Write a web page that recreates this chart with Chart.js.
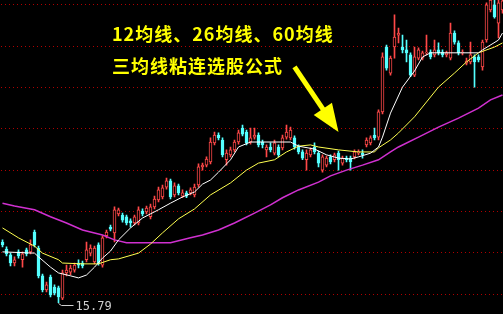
<!DOCTYPE html>
<html>
<head>
<meta charset="utf-8">
<script src="https://cdn.jsdelivr.net/npm/chart.js@4/dist/chart.umd.min.js"></script>
<style>
  html, body { margin: 0; padding: 0; background: #000; }
  #wrap { position: relative; width: 503px; height: 314px; overflow: hidden; background: #000; }
  #kline { position: absolute; left: 0; top: 0; }
  .note { position: absolute; left: 112px; color: #ffff00; font: bold 18px "Noto Sans CJK SC", sans-serif; letter-spacing: 1px; line-height: 18px; white-space: nowrap; }
</style>
</head>
<body>
<div id="wrap">
  <canvas id="kline" width="505" height="314"></canvas>
  <div class="note" style="top:24px">12均线、26均线、60均线</div>
  <div class="note" style="top:56px">三均线粘连选股公式</div>
</div>
<script>
// 日K数据
const opens = [17.26,17.09,16.95,16.75,17.02,16.83,17.07,17.02,17.50,17.11,
  16.44,16.10,16.41,16.17,16.15,15.90,16.51,16.53,16.58,16.75,
  16.75,16.83,16.99,16.78,17.19,16.70,17.41,17.62,17.48,17.94,
  17.91,17.87,17.77,17.72,17.72,18.01,17.99,17.87,18.11,18.28,
  18.35,18.59,18.74,18.40,18.62,18.37,18.45,18.45,18.40,18.64,
  19.08,19.12,19.20,19.66,19.85,19.73,19.25,19.37,19.49,19.68,
  20.02,19.92,19.68,19.80,19.85,19.68,19.49,19.56,19.41,19.56,
  19.54,19.80,19.78,19.78,19.56,19.44,19.25,19.37,19.56,19.41,
  19.00,19.12,19.32,19.25,19.41,19.17,19.29,19.29,19.32,19.41,
  19.41,19.61,19.66,19.85,19.80,20.41,21.98,21.35,21.98,22.27,
  21.98,21.91,21.79,21.30,21.71,21.71,21.84,21.86,21.79,21.91,
  21.86,21.79,21.71,22.32,22.08,21.84,21.59,21.62,21.74,21.74,
  21.50,22.15,22.88,23.00,22.56,22.88];
const highs = [17.31,17.14,16.99,16.90,17.07,17.02,17.11,17.31,17.55,17.16,
  16.48,16.29,16.46,16.22,16.19,16.58,16.70,16.70,16.75,16.83,
  16.80,17.26,17.19,17.16,17.24,17.41,17.55,17.67,18.11,18.08,
  17.96,17.91,17.82,17.91,18.11,18.06,18.13,18.18,18.37,18.59,
  18.64,18.81,18.78,18.69,18.66,18.52,18.49,18.57,18.66,19.15,
  19.17,19.32,19.78,19.92,19.90,19.78,19.49,19.56,19.73,19.97,
  20.09,19.97,20.02,20.02,19.90,19.73,19.61,19.66,19.73,19.61,
  19.85,20.09,20.04,19.83,19.61,19.49,19.49,19.54,19.66,19.46,
  19.37,19.34,19.37,19.41,19.46,19.34,19.34,19.34,19.49,19.49,
  19.49,19.78,19.83,20.02,20.46,21.84,22.03,21.76,22.76,22.44,
  22.27,22.15,21.84,21.98,21.96,21.88,22.27,21.91,22.15,22.08,
  21.91,21.88,22.56,22.37,22.13,21.91,21.71,22.10,21.79,21.79,
  22.15,23.05,23.12,23.12,23.12,23.12];
const lows = [17.14,16.92,16.68,16.68,16.87,16.65,16.92,16.97,17.14,16.39,
  16.05,16.05,15.93,15.98,15.79,15.86,16.44,16.46,16.53,16.63,
  16.63,16.78,16.92,16.73,16.70,16.65,17.36,17.53,17.26,17.89,
  17.74,17.67,17.62,17.67,17.67,17.89,17.94,17.82,18.06,18.23,
  18.30,18.54,18.30,18.35,18.40,18.33,18.33,18.40,18.35,18.59,
  19.00,19.08,19.15,19.61,19.73,19.32,19.12,19.32,19.44,19.63,
  19.83,19.61,19.63,19.75,19.56,19.54,19.32,19.44,19.37,19.32,
  19.49,19.75,19.73,19.51,19.39,19.25,19.00,19.32,19.39,19.08,
  18.95,19.08,19.15,19.20,19.00,19.12,19.20,19.00,19.27,19.37,
  19.29,19.56,19.61,19.73,19.73,20.36,21.42,21.30,21.71,22.08,
  21.84,21.62,21.26,21.26,21.67,21.67,21.79,21.69,21.74,21.79,
  21.74,21.74,21.67,22.05,21.79,21.79,21.55,21.57,21.01,21.62,
  21.42,22.10,22.83,22.68,22.20,22.80];
const closes = [17.19,16.97,16.75,16.83,16.92,16.97,16.97,17.19,17.19,16.44,
  16.10,16.22,15.98,16.02,15.93,16.51,16.58,16.63,16.70,16.70,
  16.68,17.07,17.11,17.11,16.75,17.36,17.50,17.57,18.04,18.04,
  17.79,17.72,17.72,17.87,18.04,17.94,18.08,18.11,18.30,18.52,
  18.57,18.74,18.35,18.62,18.45,18.45,18.37,18.52,18.59,19.08,
  19.12,19.27,19.68,19.85,19.78,19.37,19.41,19.49,19.68,19.90,
  19.87,19.66,19.78,19.85,19.61,19.61,19.56,19.49,19.66,19.37,
  19.78,19.92,19.97,19.56,19.44,19.29,19.41,19.49,19.44,19.17,
  19.32,19.29,19.20,19.37,19.25,19.29,19.25,19.20,19.44,19.44,
  19.37,19.73,19.78,19.78,20.41,21.74,21.47,21.71,22.22,22.32,
  21.91,21.84,21.30,21.74,21.91,21.84,21.86,21.74,21.91,21.84,
  21.79,21.84,22.32,22.10,21.84,21.86,21.64,21.79,21.62,21.67,
  22.10,23.00,23.12,22.71,23.05,23.10];

// 均线读数（K线序号 -> 价格）
const ma12Idx = [0,8,9,12,14,17,19,21,23,25,27,29,32,35,39,42,45,48,50,52,54,57,59,62,72,74,78,81,84,87,89,92,94,95,97,100,103,105,107,119,120,124,125];
const ma12Val = [17.02,16.99,16.90,16.65,16.51,16.44,16.39,16.46,16.65,16.87,17.04,17.31,17.60,17.84,18.04,18.20,18.35,18.47,18.66,18.76,18.95,19.25,19.56,19.68,19.68,19.58,19.51,19.37,19.29,19.27,19.32,19.41,19.56,19.80,20.38,21.01,21.40,21.74,21.84,21.84,21.91,22.15,22.32];
const ma26Idx = [0,4,8,10,14,15,20,24,27,29,34,37,40,44,48,52,57,61,64,68,71,74,77,79,84,89,93,94,97,99,103,106,109,113,116,119,123,125];
const ma26Val = [17.60,17.36,17.16,16.99,16.83,16.75,16.73,16.73,16.83,16.85,16.99,17.21,17.48,17.82,18.06,18.40,18.69,19.00,19.17,19.25,19.44,19.58,19.61,19.56,19.49,19.44,19.44,19.54,19.73,19.90,20.29,20.65,21.01,21.35,21.62,21.84,21.98,22.08];
const ma60Idx = [0,3,8,12,16,20,25,28,31,37,42,47,50,54,58,63,67,70,74,79,82,86,90,94,97,99,104,109,114,119,122,125];
const ma60Val = [18.20,18.13,18.04,17.87,17.72,17.55,17.43,17.31,17.24,17.24,17.24,17.36,17.43,17.55,17.72,17.96,18.16,18.33,18.52,18.71,18.86,19.00,19.12,19.25,19.44,19.56,19.80,20.04,20.26,20.50,20.70,20.82];

const priceTicks = [16, 17, 18, 19, 20, 21, 22, 23];
// 箭头：起点和终点（序号, 价格）
const arrowFrom = [73, 21.50];
const arrowTo = [84, 19.92];

const UP = "#ff4848", DOWN = "#54ffff";
const labels = opens.map((_, i) => i);
const isUp = opens.map((o, i) => closes[i] >= o);

function spread(idx, vals) {
  const arr = labels.map(() => null);
  idx.forEach((k, j) => { arr[k] = vals[j]; });
  return arr;
}

const lowLabel = {
  id: "lowLabel",
  afterDatasetsDraw(chart) {
    const ctx = chart.ctx, xs = chart.scales.x, ys = chart.scales.y;
    // 最低价标注
    let j = 0;
    lows.forEach((v, i) => { if (v < lows[j]) j = i; });
    const x0 = Math.floor(xs.getPixelForValue(j)) + 0.5;
    const y0 = Math.round(ys.getPixelForValue(lows[j])) + 0.5;
    ctx.save();
    ctx.strokeStyle = "#d0d0d0";
    ctx.lineWidth = 1;
    ctx.beginPath();
    ctx.moveTo(x0, y0);
    ctx.lineTo(x0 + 3, y0 + 2);
    ctx.lineTo(x0 + 15, y0 + 2);
    ctx.stroke();
    ctx.fillStyle = "#d0d0d0";
    ctx.font = "12px 'DejaVu Sans Mono', monospace";
    ctx.textBaseline = "middle";
    ctx.fillText(lows[j].toFixed(2), x0 + 17, y0 + 3);

    // 黄色箭头
    const ax = xs.getPixelForValue(arrowFrom[0]), ay = ys.getPixelForValue(arrowFrom[1]);
    const bx = xs.getPixelForValue(arrowTo[0]), by = ys.getPixelForValue(arrowTo[1]);
    const len = Math.hypot(bx - ax, by - ay);
    const ux = (bx - ax) / len, uy = (by - ay) / len;
    const head = 28, half = 11;
    const hx = bx - ux * head, hy = by - uy * head;
    ctx.strokeStyle = "#ffff00";
    ctx.fillStyle = "#ffff00";
    ctx.lineWidth = 5;
    ctx.beginPath();
    ctx.moveTo(ax, ay);
    ctx.lineTo(hx + ux * 2, hy + uy * 2);
    ctx.stroke();
    ctx.beginPath();
    ctx.moveTo(bx, by);
    ctx.lineTo(hx - uy * half, hy + ux * half);
    ctx.lineTo(hx + uy * half, hy - ux * half);
    ctx.closePath();
    ctx.fill();
    ctx.restore();
  }
};

new Chart(document.getElementById("kline"), {
  type: "bar",
  data: {
    labels: labels,
    datasets: [
      { type: "line", label: "MA12", data: spread(ma12Idx, ma12Val), borderColor: "#ffffff", borderWidth: 1, pointRadius: 0, spanGaps: true, order: 0 },
      { type: "line", label: "MA26", data: spread(ma26Idx, ma26Val), borderColor: "#ffff50", borderWidth: 1, pointRadius: 0, spanGaps: true, order: 0 },
      { type: "line", label: "MA60", data: spread(ma60Idx, ma60Val), borderColor: "#d030d0", borderWidth: 1.5, pointRadius: 0, spanGaps: true, order: 0 },
      {
        label: "body",
        data: opens.map((o, i) => [o, closes[i]]),
        backgroundColor: isUp.map(u => u ? "#000000" : DOWN),
        borderColor: isUp.map(u => u ? UP : DOWN),
        borderWidth: 1,
        borderSkipped: false,
        barThickness: 3,
        grouped: false,
        order: 1
      },
      {
        label: "wick",
        data: lows.map((l, i) => [l, highs[i]]),
        backgroundColor: isUp.map(u => u ? UP : DOWN),
        borderWidth: 0,
        barThickness: 1,
        grouped: false,
        order: 2
      }
    ]
  },
  options: {
    responsive: false,
    animation: false,
    devicePixelRatio: 1,
    layout: { padding: { left: 0.5, right: 0.5, top: 0, bottom: 0 } },
    plugins: { legend: { display: false }, tooltip: { enabled: false } },
    scales: {
      x: { display: false, offset: true },
      y: {
        min: 15.516,
        max: 23.119,
        afterBuildTicks: s => { s.ticks = priceTicks.map(v => ({ value: v })); },
        afterFit: s => { s.width = 0; },
        ticks: { display: false },
        grid: { color: "#b00000", lineWidth: 1, drawTicks: false },
        border: { display: false, dash: [1, 3] }
      }
    }
  },
  plugins: [lowLabel]
});
</script>
</body>
</html>
